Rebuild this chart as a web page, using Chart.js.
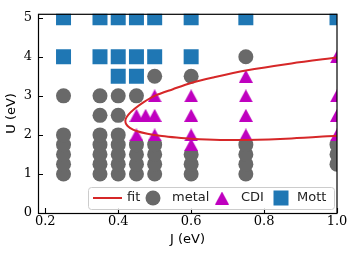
<!DOCTYPE html>
<html><head><meta charset="utf-8">
<script src="https://cdn.jsdelivr.net/npm/chart.js@4"></script>
<style>html,body{margin:0;padding:0;background:#fff;overflow:hidden}</style>
</head><body>
<canvas id="c" width="353" height="257" style="width:353px;height:257px;display:block"></canvas>
<script>
// ---- data ----
const xTicks = [0.2, 0.4, 0.6, 0.8, 1.0];
const yTicks = [0, 1, 2, 3, 4, 5];
const seriesNames = ['fit', 'metal', 'CDI', 'Mott'];

const metalJ = [0.25,0.25,0.25,0.25,0.25,0.25, 0.35,0.35,0.35,0.35,0.35,0.35,0.35, 0.4,0.4,0.4,0.4,0.4,0.4,0.4, 0.45,0.45,0.45,0.45,0.45, 0.5,0.5,0.5,0.5,0.5, 0.6,0.6,0.6,0.6, 0.75,0.75,0.75,0.75,0.75, 1.0,1.0,1.0];
const metalU = [1,1.25,1.5,1.75,2,3, 1,1.25,1.5,1.75,2,2.5,3, 1,1.25,1.5,1.75,2,2.5,3, 1,1.25,1.5,1.75,3, 1,1.25,1.5,1.75,3.5, 1,1.25,1.5,3.5, 1,1.25,1.5,1.75,4, 1.25,1.5,1.75];

const cdiJ = [0.45,0.45, 0.475, 0.5,0.5,0.5, 0.6,0.6,0.6,0.6, 0.75,0.75,0.75,0.75, 1.0,1.0,1.0,1.0];
const cdiU = [2,2.5, 2.5, 2,2.5,3, 1.75,2,2.5,3, 2,2.5,3,3.5, 2,2.5,3,4];

const mottJ = [0.25,0.25, 0.35,0.35, 0.4,0.4,0.4, 0.45,0.45,0.45, 0.5,0.5, 0.6,0.6, 0.75, 1.0];
const mottU = [4,5, 4,5, 3.5,4,5, 3.5,4,5, 4,5, 4,5, 5, 5];

const fitJ = [1.0, 0.875, 0.75, 0.66, 0.6, 0.55, 0.5, 0.47, 0.445, 0.428, 0.42, 0.422, 0.432, 0.45, 0.48, 0.52, 0.56, 0.6, 0.68, 0.75, 0.875, 1.0];
const fitU = [3.98, 3.83, 3.65, 3.47, 3.33, 3.17, 3.0, 2.84, 2.67, 2.52, 2.39, 2.27, 2.18, 2.1, 2.03, 1.97, 1.93, 1.9, 1.87, 1.87, 1.91, 1.98];

// ---- styles ----
const C_FIT = '#d62728', C_METAL = '#696969', C_CDI = '#bf00bf', C_MOTT = '#1f77b4';
const SANS = 'DejaVu Sans', SERIF = 'DejaVu Serif';

function pts(xs, ys){ return xs.map((x,i)=>({x:x, y:ys[i]})); }

function triCanvas(w, h, color){
  const cv = document.createElement('canvas'); cv.width = w; cv.height = h;
  const g = cv.getContext('2d');
  g.fillStyle = color; g.beginPath();
  g.moveTo(w/2, 0); g.lineTo(w, h); g.lineTo(0, h); g.closePath(); g.fill();
  return cv;
}
const TRI = triCanvas(14, 13, C_CDI);

const framePlugin = {
  id: 'frame',
  afterDatasetsDraw(chart){
    const {ctx, chartArea:a, scales} = chart;
    ctx.save();
    ctx.strokeStyle = '#000'; ctx.lineWidth = 1.1;
    // inward ticks
    ctx.beginPath();
    xTicks.forEach(v=>{ const px = Math.round(scales.x.getPixelForValue(v))+0.5; ctx.moveTo(px, a.bottom); ctx.lineTo(px, a.bottom-5); });
    yTicks.forEach(v=>{ const py = Math.round(scales.y.getPixelForValue(v))+0.5; ctx.moveTo(a.left, py); ctx.lineTo(a.left+5, py); });
    ctx.stroke();
    ctx.lineWidth = 1.2;
    ctx.strokeRect(a.left+0.5, a.top+0.5, a.right-a.left-0.5, a.bottom-a.top);
    // legend
    const bx = 88, by = 187, bw = 246, bh = 22, cy = by + bh/2;
    ctx.fillStyle = 'rgba(255,255,255,0.85)';
    ctx.strokeStyle = '#cccccc'; ctx.lineWidth = 1;
    ctx.beginPath(); ctx.roundRect(bx+0.5, by+0.5, bw, bh, 3); ctx.fill(); ctx.stroke();
    ctx.strokeStyle = C_FIT; ctx.lineWidth = 2;
    ctx.beginPath(); ctx.moveTo(93, cy); ctx.lineTo(122, cy); ctx.stroke();
    ctx.fillStyle = C_METAL; ctx.beginPath(); ctx.arc(153, cy, 7.5, 0, Math.PI*2); ctx.fill();
    ctx.drawImage(TRI, 222-7, cy-6.5);
    ctx.fillStyle = C_MOTT; ctx.fillRect(281-7.5, cy-7.5, 15, 15);
    ctx.fillStyle = '#222'; ctx.font = '13px "'+SANS+'"'; ctx.textBaseline = 'middle'; ctx.textAlign = 'left';
    ctx.fillText(seriesNames[0], 127, cy);
    ctx.fillText(seriesNames[1], 172, cy);
    ctx.fillText(seriesNames[2], 241, cy);
    ctx.fillText(seriesNames[3], 297, cy);
    ctx.restore();
  }
};

new Chart(document.getElementById('c'), {
  type: 'scatter',
  data: {
    datasets: [
      { label: seriesNames[0], data: pts(fitJ, fitU), showLine: true, borderColor: C_FIT, borderWidth: 2,
        pointRadius: 0, tension: 0.3, fill: false, order: 0, clip: 0 },
      { label: seriesNames[3], data: pts(mottJ, mottU), pointStyle: 'rect', pointRadius: 10.6,
        backgroundColor: C_MOTT, borderWidth: 0, order: 1, clip: 0 },
      { label: seriesNames[2], data: pts(cdiJ, cdiU), pointStyle: TRI, pointRadius: 7,
        backgroundColor: C_CDI, borderWidth: 0, order: 2, clip: 0 },
      { label: seriesNames[1], data: pts(metalJ, metalU), pointStyle: 'circle', pointRadius: 7.5,
        backgroundColor: C_METAL, borderWidth: 0, order: 3, clip: 0 }
    ]
  },
  options: {
    responsive: false, animation: false, devicePixelRatio: 1,
    layout: { padding: { top: 9, right: 16, left: 0, bottom: 0 } },
    plugins: { legend: { display: false }, tooltip: { enabled: false } },
    elements: { point: { hoverRadius: 0 } },
    scales: {
      x: {
        type: 'linear', min: 0.18, max: 1.0,
        afterBuildTicks: s => { s.ticks = xTicks.map(v=>({value:v})); },
        afterFit: s => { s.height = 44; },
        grid: { display: false, drawTicks: false }, border: { display: false },
        ticks: { padding: 1, color: '#000', font: { family: SERIF, size: 13 },
                 callback: v => v.toFixed(1) },
        title: { display: true, text: 'J (eV)', color: '#000', font: { family: SANS, size: 13 }, padding: { top: 0, bottom: 10 } }
      },
      y: {
        type: 'linear', min: 0, max: 5.1,
        afterBuildTicks: s => { s.ticks = yTicks.map(v=>({value:v})); },
        afterFit: s => { s.width = 38; },
        grid: { display: false, drawTicks: false }, border: { display: false },
        ticks: { padding: 6, color: '#000', font: { family: SERIF, size: 13 },
                 callback: v => String(v) },
        title: { display: true, text: 'U (eV)', color: '#000', font: { family: SANS, size: 13 }, padding: { top: 4, bottom: 0 } }
      }
    }
  },
  plugins: [framePlugin]
});
</script>
</body></html>
